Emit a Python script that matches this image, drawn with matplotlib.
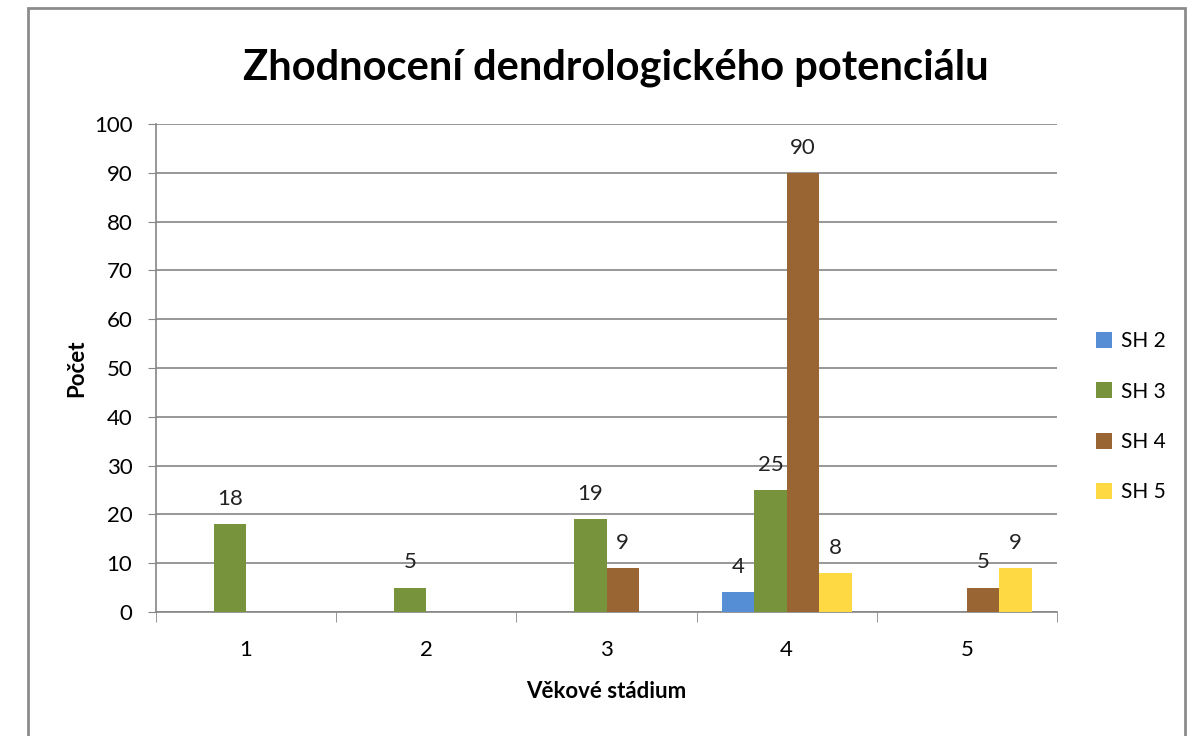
import numpy as np
import matplotlib.pyplot as plt
from matplotlib.patches import Rectangle

# Data #
stages = ["1", "2", "3", "4", "5"]
series = ["SH 2", "SH 3", "SH 4", "SH 5"]
sh2 = [0, 0, 0, 4, 0]
sh3 = [18, 5, 19, 25, 0]
sh4 = [0, 0, 9, 90, 5]
sh5 = [0, 0, 0, 8, 9]
colors = ["#558ed5", "#77933c", "#996633", "#ffd944"]

plt.rcParams['font.family'] = ['Lato', 'DejaVu Sans']

fig = plt.figure(figsize=(11.92, 7.36), dpi=100)
ax = fig.add_axes([156/1192, 1-612/736, (1057-156)/1192, (612-124)/736])

# chart border
fig.patches.append(Rectangle((28/1192, -0.05), (1157)/1192, 1.05-8/736,
                             transform=fig.transFigure, fill=False,
                             edgecolor="#8c8c8c", linewidth=2))

x = np.arange(1, len(stages)+1)
width = 0.18
for i, (vals, name) in enumerate(zip([sh2, sh3, sh4, sh5], series)):
    pos = x + (i - 1.5) * width
    ax.bar(pos, vals, width, color=colors[i], label=name, zorder=3)
    for p, v in zip(pos, vals):
        if v > 0:  # only label bars that exist
            ax.annotate(str(v), (p, v), xytext=(0, 11), textcoords="offset points",
                        ha="center", va="bottom", fontsize=16, color="#222222")

ax.set_xlim(0.5, 5.5)
ax.set_ylim(0, 100)
ax.set_yticks(range(0, 101, 10))
ax.set_xticks(x)
ax.set_xticklabels(stages)
ax.set_xticks(np.arange(0.5, 5.6, 1), minor=True)
ax.tick_params(axis="x", which="major", length=0, pad=20, labelsize=16)
ax.tick_params(axis="x", which="minor", length=7, color="#868686", direction="out")
ax.tick_params(axis="y", length=6, color="#868686", labelsize=16, pad=11)
ax.yaxis.grid(True, color="#868686", linewidth=1.2, zorder=0)
for s in ["top", "right"]:
    ax.spines[s].set_visible(False)
for s in ["left", "bottom"]:
    ax.spines[s].set_color("#868686")
    ax.spines[s].set_linewidth(1.2)

ax.set_ylabel("Počet", fontsize=16, fontweight="bold", labelpad=5)
ax.set_xlabel("Věkové stádium", fontsize=16, fontweight="bold", labelpad=15)
fig.text(616/1192, 1-68/736, "Zhodnocení dendrologického potenciálu",
         ha="center", va="center", fontsize=30, fontweight="bold")

ax.legend(loc="center left", bbox_to_anchor=(1.022, 0.40), frameon=False,
          fontsize=15, handlelength=0.8, handleheight=0.8, handletextpad=0.4,
          labelspacing=1.45)

plt.savefig("out.png", dpi=100)
